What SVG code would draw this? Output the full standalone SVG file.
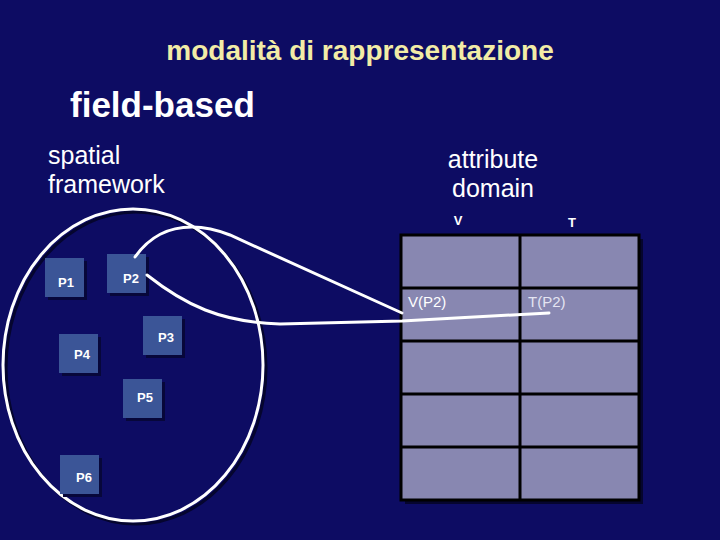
<svg xmlns="http://www.w3.org/2000/svg" width="720" height="540" viewBox="0 0 720 540">
<defs>
<style>
.bg{fill:#0d0c63}
.box{fill:#3b5597}
.sh{fill:#07073a}
.lbl{font-family:"Liberation Sans",Arial,sans-serif;font-weight:bold;font-size:13px;fill:#ffffff;text-anchor:middle}
.head{font-family:"Liberation Sans",Arial,sans-serif;font-size:25px;fill:#ffffff;text-anchor:middle}
.cell{fill:#8887b1}
.grid{stroke:#000000;stroke-width:3;fill:none}
.wire{stroke:#ffffff;stroke-width:3;fill:none;stroke-linecap:round}
</style>
</defs>
<rect class="bg" x="0" y="0" width="720" height="540"/>
<text x="360" y="60" font-family="Liberation Sans, Arial, sans-serif" font-weight="bold" font-size="28" fill="#f2eca6" text-anchor="middle">modalità di rappresentazione</text>
<text x="70" y="117" font-family="Liberation Sans, Arial, sans-serif" font-weight="bold" font-size="35" fill="#ffffff">field-based</text>
<text x="48" y="164" font-family="Liberation Sans, Arial, sans-serif" font-size="25" fill="#ffffff">spatial</text>
<text x="48" y="193" font-family="Liberation Sans, Arial, sans-serif" font-size="25" fill="#ffffff">framework</text>
<text class="head" x="493" y="168">attribute</text>
<text class="head" x="493" y="197">domain</text>
<g id="ellipse">
<ellipse cx="136" cy="368" rx="130" ry="156" fill="none" stroke="#05052e" stroke-width="3"/>
<ellipse cx="133" cy="365" rx="130" ry="156" fill="none" stroke="#ffffff" stroke-width="3"/>
</g>
<g id="table">
<rect x="405" y="239" width="238" height="265" fill="#05052e"/>
<rect class="cell" x="401" y="235" width="238" height="265"/>
<rect class="grid" x="401" y="235" width="238" height="265"/>
<path class="grid" d="M520,235 V500 M401,288 H639 M401,341 H639 M401,394 H639 M401,447 H639"/>
<text class="lbl" x="458" y="225">V</text>
<text class="lbl" x="572" y="227">T</text>
<text x="408" y="307" font-family="Liberation Sans, Arial, sans-serif" font-size="15" fill="#ffffff">V(P2)</text>
<text x="528" y="307" font-family="Liberation Sans, Arial, sans-serif" font-size="15" fill="#e4e4f2">T(P2)</text>
</g>
<g id="P1"><rect class="sh" x="48" y="261" width="39" height="39"/><rect class="box" x="45" y="258" width="39" height="39"/><text class="lbl" x="66" y="287">P1</text></g>
<g id="P2"><rect class="sh" x="110" y="257" width="39" height="39"/><rect class="box" x="107" y="254" width="39" height="39"/><text class="lbl" x="131" y="283">P2</text></g>
<g id="P3"><rect class="sh" x="146" y="319" width="39" height="39"/><rect class="box" x="143" y="316" width="39" height="39"/><text class="lbl" x="166" y="342">P3</text></g>
<g id="P4"><rect class="sh" x="62" y="337" width="39" height="39"/><rect class="box" x="59" y="334" width="39" height="39"/><text class="lbl" x="82" y="359">P4</text></g>
<g id="P5"><rect class="sh" x="126" y="382" width="39" height="39"/><rect class="box" x="123" y="379" width="39" height="39"/><text class="lbl" x="145" y="402">P5</text></g>
<g id="P6"><rect class="sh" x="63" y="458" width="39" height="39"/><rect class="box" x="60" y="455" width="39" height="39"/><text class="lbl" x="84" y="482">P6</text></g>
<g id="connectors">
<path class="wire" d="M135,257 C150,236 168,227 192,227 C205,227 215,229 230,235 L402,313"/>
<path class="wire" d="M147,275 C185,305 220,322 280,324 L402,321 L549,313"/>
</g>
</svg>
